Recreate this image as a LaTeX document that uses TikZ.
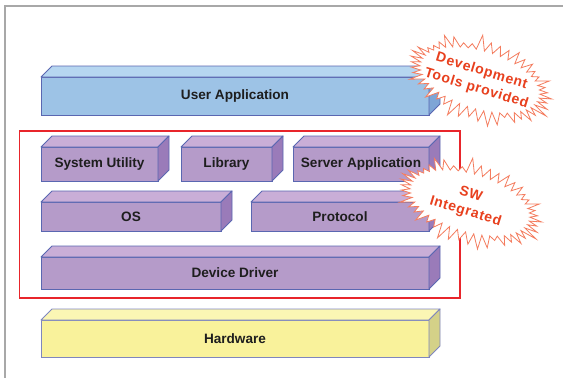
\documentclass[tikz,border=0pt]{standalone}
\usepackage{fontspec}
\setmainfont{Liberation Sans}
\newfontfamily\burstfont{Liberation Sans}[LetterSpace=5]
\usetikzlibrary{shapes.symbols}
\definecolor{edgecol}{HTML}{5A67B1}
\definecolor{hwedge}{HTML}{7F86BE}
\definecolor{uafront}{HTML}{9DC3E6}
\definecolor{uatop}{HTML}{B6D6F0}
\definecolor{uaside}{HTML}{7EA5D6}
\definecolor{pfront}{HTML}{B59BC9}
\definecolor{ptop}{HTML}{C9AED7}
\definecolor{pside}{HTML}{9A7BB9}
\definecolor{yfront}{HTML}{F9F29B}
\definecolor{ytop}{HTML}{FBF6B4}
\definecolor{yside}{HTML}{D4D188}
\definecolor{redframe}{HTML}{E8252B}
\definecolor{burstline}{HTML}{F47C5E}
\definecolor{bursttext}{HTML}{E8401E}
\definecolor{framegray}{HTML}{A8A8A8}
\definecolor{labeltext}{HTML}{1E1E1E}
\newcommand\dd{11}
\tikzset{
  layer/.style={draw=edgecol, line width=0.9pt, outer sep=0pt, inner sep=0pt,
    font=\bfseries\fontsize{13.6}{15}\selectfont, text=labeltext},
  faceline/.style={draw=edgecol, line width=0.9pt, line join=round},
  burst/.style={starburst, starburst points=46, starburst point height=16pt,
    random starburst=5, draw=burstline, fill=white, line width=0.8pt,
    minimum width=156pt, minimum height=90pt, inner sep=0pt},
  bursttxt/.style={align=center, text=bursttext,
    font=\burstfont\bfseries\fontsize{14}{18}\selectfont}
}
\newcommand\layerbox[9]{%
  \node[layer, fill=#6, minimum width=#4pt, minimum height=#5pt] (#1) at (#2,#3) {#9};
  \draw[faceline, fill=#7] (#1.north west) -- ++(\dd,-\dd)
    -- ([xshift=\dd pt, yshift=\dd pt]#1.north east) -- (#1.north east) -- cycle;
  \draw[faceline, fill=#8] (#1.north east) -- ++(\dd,-\dd)
    -- ([xshift=\dd pt, yshift=\dd pt]#1.south east) -- (#1.south east) -- cycle;
}
\begin{document}
\begin{tikzpicture}[x=1pt, y=-1pt]
\useasboundingbox (0,0) rectangle (563,378);
% outer gray frame
\coordinate (ftl) at (5,6);
\coordinate (ftr) at (563,6);
\coordinate (fbl) at (5,378);
\draw[framegray, line width=1.5pt] (ftr) -- (ftl) -- (fbl);
% red frame
\node[draw=redframe, line width=1.3pt, minimum width=440.5pt, minimum height=167pt,
  inner sep=0pt, outer sep=0pt] (swframe) at (239.75,214.5) {};
% layers
\layerbox{ua}{235}{96}{388}{38}{uafront}{uatop}{uaside}{User Application}
\layerbox{su}{99.5}{164}{117}{34}{pfront}{ptop}{pside}{System Utility}
\layerbox{lib}{226.5}{164}{91}{34}{pfront}{ptop}{pside}{Library}
\layerbox{sa}{361}{164}{136}{34}{pfront}{ptop}{pside}{Server Application}
\layerbox{os}{131}{216.5}{180}{29}{pfront}{ptop}{pside}{OS}
\layerbox{pr}{340}{216.5}{178}{29}{pfront}{ptop}{pside}{Protocol}
\layerbox{dd}{235}{273}{388}{32}{pfront}{ptop}{pside}{Device Driver}
\begin{scope}
\colorlet{edgecol}{hwedge}
\layerbox{hw}{235}{338.5}{388}{37}{yfront}{ytop}{yside}{Hardware}
\end{scope}
% starbursts
\node[burst, rotate=-17] (devburst) at (480,80) {};
\node[bursttxt, rotate=-17] (devtext) at ([xshift=-1pt]devburst.center) {Development\\Tools provided};
\node[burst, rotate=-17] (swburst) at (470,203) {};
\node[bursttxt, rotate=-17] (swtext) at ([xshift=-2pt]swburst.center) {SW\\Integrated};
\end{tikzpicture}
\end{document}
